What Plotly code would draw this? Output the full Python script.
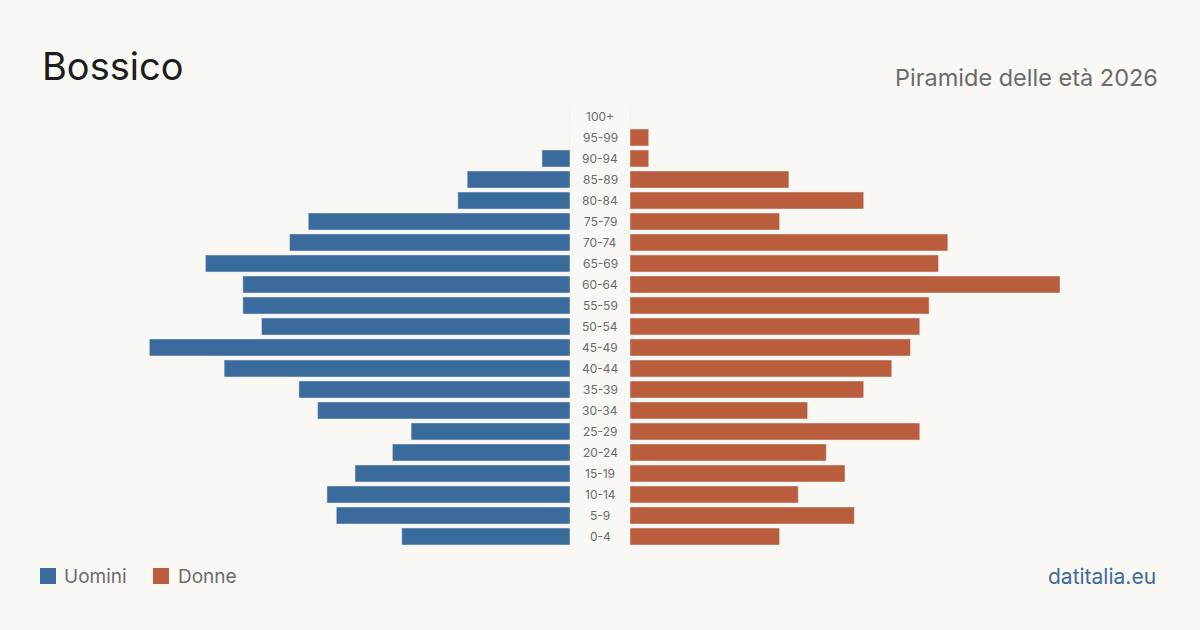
import plotly.graph_objects as go

age_groups = ["0-4", "5-9", "10-14", "15-19", "20-24", "25-29", "30-34", "35-39",
              "40-44", "45-49", "50-54", "55-59", "60-64", "65-69", "70-74",
              "75-79", "80-84", "85-89", "90-94", "95-99", "100+"]
men = [18, 25, 26, 23, 19, 17, 27, 29, 37, 45, 33, 35, 35, 39, 30, 28, 12, 11, 3, 0, 0]
women = [16, 24, 18, 23, 21, 31, 19, 25, 28, 30, 31, 32, 46, 33, 34, 16, 25, 17, 2, 2, 0]

BLUE = "#3b6a9c"
ORANGE = "#b95d3c"
BG = "#f9f8f4"
W, H = 1200, 630
MT, MB = 106, 83
PH = H - MT - MB
xmax = 46


def py(ypx):
    """pixel y (from top) -> paper y"""
    return (H - MB - ypx) / PH


fig = go.Figure()
fig.add_trace(go.Bar(y=age_groups, x=men, orientation="h", marker_color=BLUE,
                     xaxis="x", yaxis="y", name="Uomini", showlegend=False,
                     hoverinfo="x+y"))
fig.add_trace(go.Bar(y=age_groups, x=women, orientation="h", marker_color=ORANGE,
                     xaxis="x2", yaxis="y", name="Donne", showlegend=False,
                     hoverinfo="x+y"))

annotations = []
for g in age_groups:
    annotations.append(dict(x=0.5, xref="paper", y=g, yref="y", text=g, showarrow=False,
                            xanchor="center", yanchor="middle",
                            font=dict(family="Inter", size=12, color="#6b6b6b")))

annotations += [
    dict(x=40 / W, y=py(66), xref="paper", yref="paper", text="Bossico", showarrow=False,
         xanchor="left", yanchor="middle", font=dict(family="Inter", size=38, color="#1c1c1c")),
    dict(x=1160 / W, y=py(77), xref="paper", yref="paper", text="Piramide delle età 2026",
         showarrow=False, xanchor="right", yanchor="middle",
         font=dict(family="Inter", size=23.5, color="#6b6b6b")),
    dict(x=62 / W, y=py(576), xref="paper", yref="paper", text="Uomini", showarrow=False,
         xanchor="left", yanchor="middle", font=dict(family="Inter", size=19, color="#6b6b6b")),
    dict(x=176 / W, y=py(576), xref="paper", yref="paper", text="Donne", showarrow=False,
         xanchor="left", yanchor="middle", font=dict(family="Inter", size=19, color="#6b6b6b")),
    dict(x=1158 / W, y=py(576), xref="paper", yref="paper", text="datitalia.eu", showarrow=False,
         xanchor="right", yanchor="middle", font=dict(family="Inter", size=21, color="#3b6a9c")),
]

shapes = [
    dict(type="rect", xref="paper", yref="paper", x0=40 / W, x1=56 / W,
         y0=py(584), y1=py(568), fillcolor=BLUE, line_width=0),
    dict(type="rect", xref="paper", yref="paper", x0=153 / W, x1=169 / W,
         y0=py(584), y1=py(568), fillcolor=ORANGE, line_width=0),
]

axis_common = dict(showgrid=False, zeroline=False, showticklabels=False, showline=False,
                   fixedrange=True)
fig.update_layout(
    width=W, height=H,
    margin=dict(l=0, r=0, t=MT, b=MB),
    paper_bgcolor=BG, plot_bgcolor="rgba(0,0,0,0)",
    bargap=0.19,
    xaxis=dict(domain=[140 / W, 570 / W], range=[xmax, 0], anchor="y", **axis_common),
    xaxis2=dict(domain=[630 / W, 1060 / W], range=[0, xmax], anchor="y", **axis_common),
    yaxis=dict(categoryorder="array", categoryarray=age_groups, showticklabels=False,
               showgrid=False, zeroline=False, showline=False, fixedrange=True),
    annotations=annotations,
    shapes=shapes,
    font=dict(family="Inter"),
)

fig.write_html("out.html")
